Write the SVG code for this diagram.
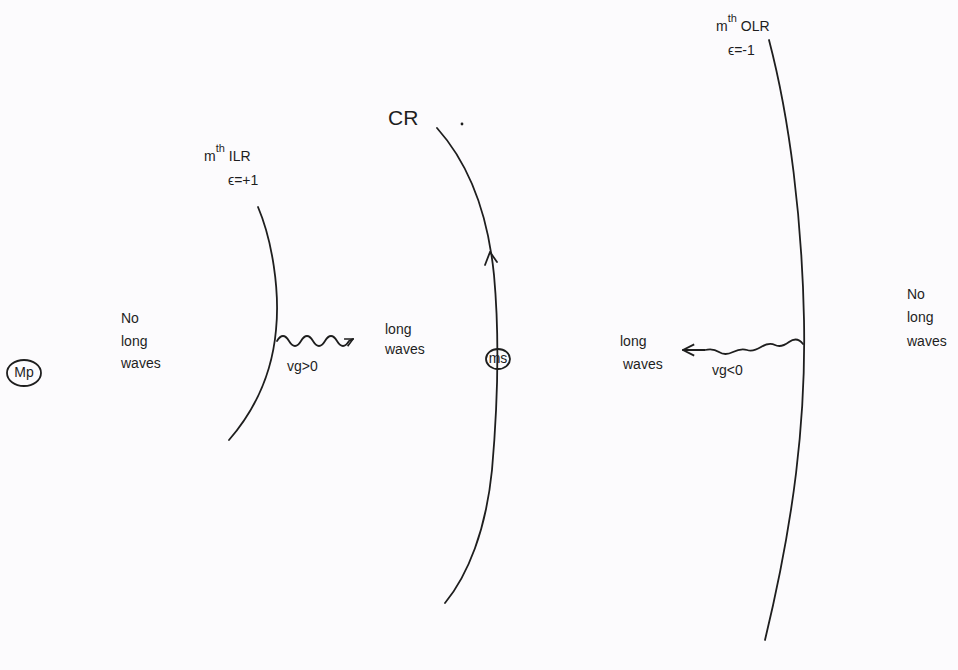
<svg xmlns="http://www.w3.org/2000/svg" width="958" height="670" viewBox="0 0 958 670">
<style>
.ln{fill:none;stroke:#1e1e1e;stroke-width:1.8;stroke-linecap:round;stroke-linejoin:round}
.t{font-family:"Liberation Sans",Arial,sans-serif;font-size:14px;fill:#1e1e1e}
.big{font-size:21px}
.sup{font-size:11px}
</style>
<defs>
<marker id="ah" viewBox="0 0 10 10" refX="9" refY="5" markerWidth="10" markerHeight="10" orient="auto" markerUnits="userSpaceOnUse">
<path d="M1 1 L9 5 L1 9" fill="none" stroke="#1e1e1e" stroke-width="1.6"/>
</marker>
<marker id="ah2" viewBox="0 0 10 10" refX="9" refY="5" markerWidth="14" markerHeight="14" orient="auto" markerUnits="userSpaceOnUse">
<path d="M1 1 L9 5 L1 9" fill="none" stroke="#1e1e1e" stroke-width="1.3"/>
</marker>
</defs>
<rect width="958" height="670" fill="#fcfbfd"/>
<g id="connectors">
<path class="ln" d="M258 207 C272 240 280 290 276 330 C272 375 255 410 229 440"/>
<path class="ln" d="M437 128 C470 165 488 215 494 275 C499 330 499 390 492 470 C486 530 468 575 445 603"/>
<path class="ln" d="M490 252 L485 265 M490 252 L497 262"/>
<path class="ln" d="M769 40 C790 120 802 220 804 320 C806 420 794 520 765 640"/>
<path class="ln" marker-end="url(#ah)" d="M277 341 q6 -10 12 0 t12 0 t12 0 t12 0 t12 0 t12 0 L353 339"/>
<path class="ln" marker-end="url(#ah2)" d="M803 344 q-6 -8 -14 -2 t-14 3 t-14 2 t-14 3 t-14 2 t-14 0 t-14 -2 L683 350"/>
</g>
<g id="mp"><ellipse class="ln" cx="24" cy="373" rx="17" ry="13"/><text class="t" x="24" y="377" text-anchor="middle" font-size="12">Mp</text></g>
<g id="ms"><ellipse class="ln" cx="498" cy="359" rx="12" ry="10" fill="#fcfbfd"/><text class="t" x="498" y="363" text-anchor="middle" font-size="10">ms</text></g>
<g id="ilr"><text class="t" x="204" y="161" font-size="15">m<tspan class="sup" dy="-9">th</tspan><tspan dy="9"> ILR</tspan></text><text class="t" x="228" y="185" font-size="15">ϵ=+1</text></g>
<g id="cr"><text class="t big" x="388" y="125">CR</text><circle cx="462" cy="124" r="1.4" fill="#1e1e1e"/></g>
<g id="olr"><text class="t" x="716" y="31" font-size="15">m<tspan class="sup" dy="-9">th</tspan><tspan dy="9"> OLR</tspan></text><text class="t" x="728" y="55" font-size="15">ϵ=-1</text></g>
<g id="left-text"><text class="t" x="121" y="323">No</text><text class="t" x="121" y="346">long</text><text class="t" x="121" y="368">waves</text></g>
<g id="right-text"><text class="t" x="907" y="299">No</text><text class="t" x="907" y="322">long</text><text class="t" x="907" y="346">waves</text></g>
<g id="ilr-waves"><text class="t" x="385" y="334">long</text><text class="t" x="385" y="354">waves</text><text class="t" x="287" y="371">vg&gt;0</text></g>
<g id="olr-waves"><text class="t" x="620" y="346">long</text><text class="t" x="623" y="369">waves</text><text class="t" x="712" y="375">vg&lt;0</text></g>
</svg>
